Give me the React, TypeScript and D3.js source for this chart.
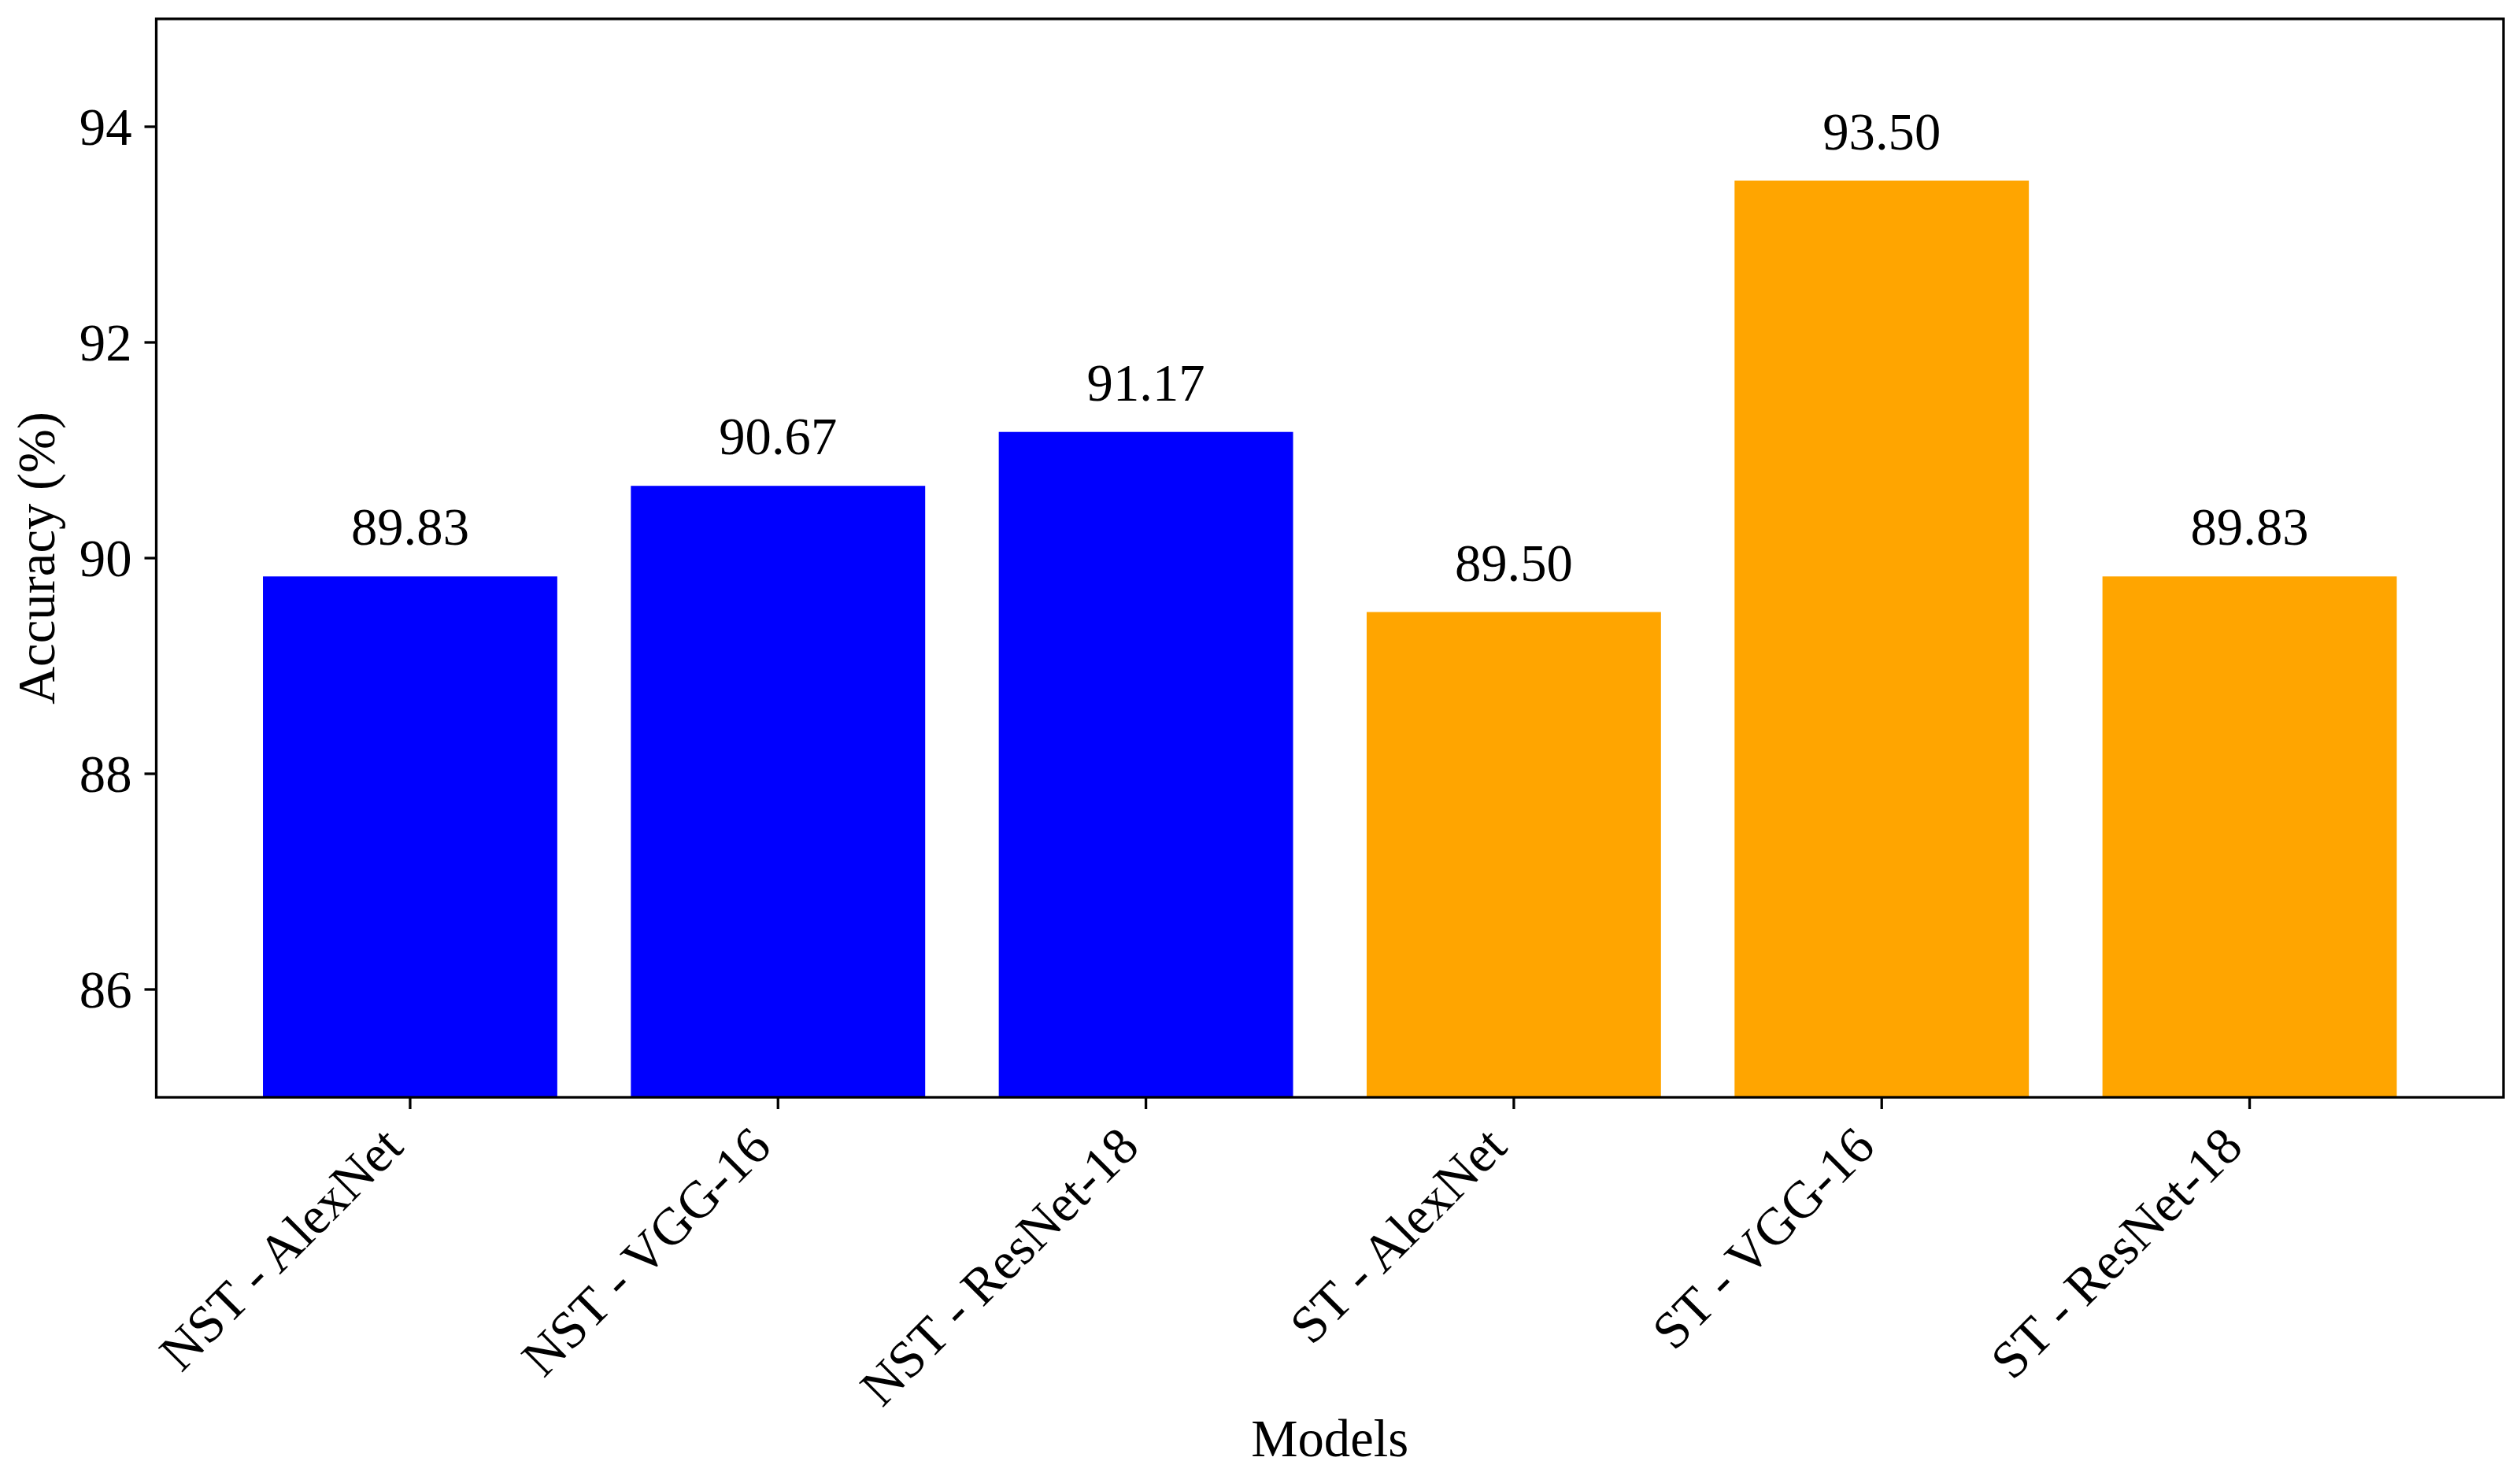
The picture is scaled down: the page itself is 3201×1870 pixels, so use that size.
import React from "react";
import * as d3 from "d3";

const categories = ["NST - AlexNet", "NST - VGG-16", "NST - ResNet-18", "ST - AlexNet", "ST - VGG-16", "ST - ResNet-18"];
const accuracy = [89.83, 90.67, 91.17, 89.5, 93.5, 89.83];
const barColors = ["#0000ff", "#0000ff", "#0000ff", "#ffa500", "#ffa500", "#ffa500"];
const yTicks = [86, 88, 90, 92, 94];
const yDomain = [85, 95];
const xTitle = "Models";
const yTitle = "Accuracy (%)";

const W = 3201;
const H = 1870;
const left = 198.5;
const right = 3180;
const top = 24;
const bottom = 1394;
const FONT = "'Liberation Serif', 'Times New Roman', serif";
const FS = 66.7;

export default function App() {
  const x = d3.scaleBand<string>().domain(categories).range([left, right]).paddingInner(0.2).paddingOuter(0.29);
  const y = d3.scaleLinear().domain(yDomain).range([bottom, top]);
  const bw = x.bandwidth();

  return (
    <svg width={W} height={H} style={{ position: "absolute", left: 0, top: 0, background: "#fff" }} fontFamily={FONT}>
      <rect x={0} y={0} width={W} height={H} fill="#fff" />
      <defs>
        <clipPath id="plotclip">
          <rect x={left} y={top} width={right - left} height={bottom - top} />
        </clipPath>
      </defs>
      <g clipPath="url(#plotclip)">
        {categories.map((c, i) => (
          <rect key={c} x={x(c)} y={y(accuracy[i])} width={bw} height={y(yDomain[0]) - y(accuracy[i])} fill={barColors[i]} />
        ))}
      </g>
      {categories.map((c, i) => (
        <text key={"v" + c} x={(x(c) as number) + bw / 2} y={y(accuracy[i]) - 40} fontSize={FS} textAnchor="middle" fill="#000">
          {accuracy[i].toFixed(2)}
        </text>
      ))}
      {/* y ticks */}
      {yTicks.map((t) => (
        <g key={"yt" + t}>
          <line x1={left - 15} x2={left} y1={y(t)} y2={y(t)} stroke="#000" strokeWidth={3.3} />
          <text x={left - 31} y={y(t)} dy="0.34em" fontSize={FS} textAnchor="end" fill="#000">
            {t}
          </text>
        </g>
      ))}
      {/* x ticks */}
      {categories.map((c) => {
        const cx = (x(c) as number) + bw / 2;
        return (
          <g key={"xt" + c}>
            <line x1={cx} x2={cx} y1={bottom} y2={bottom + 15} stroke="#000" strokeWidth={3.3} />
            <text
              transform={`translate(${cx - 6},${bottom + 66}) rotate(-45)`}
              fontSize={FS}
              textAnchor="end"
              fill="#000"
            >
              {c}
            </text>
          </g>
        );
      })}
      <rect x={left} y={top} width={right - left} height={bottom - top} fill="none" stroke="#000" strokeWidth={3.3} />
      <text x={(left + right) / 2} y={1850} fontSize={FS} textAnchor="middle" fill="#000">
        {xTitle}
      </text>
      <text transform={`translate(69,${(top + bottom) / 2}) rotate(-90)`} fontSize={FS} textAnchor="middle" fill="#000">
        {yTitle}
      </text>
    </svg>
  );
}
